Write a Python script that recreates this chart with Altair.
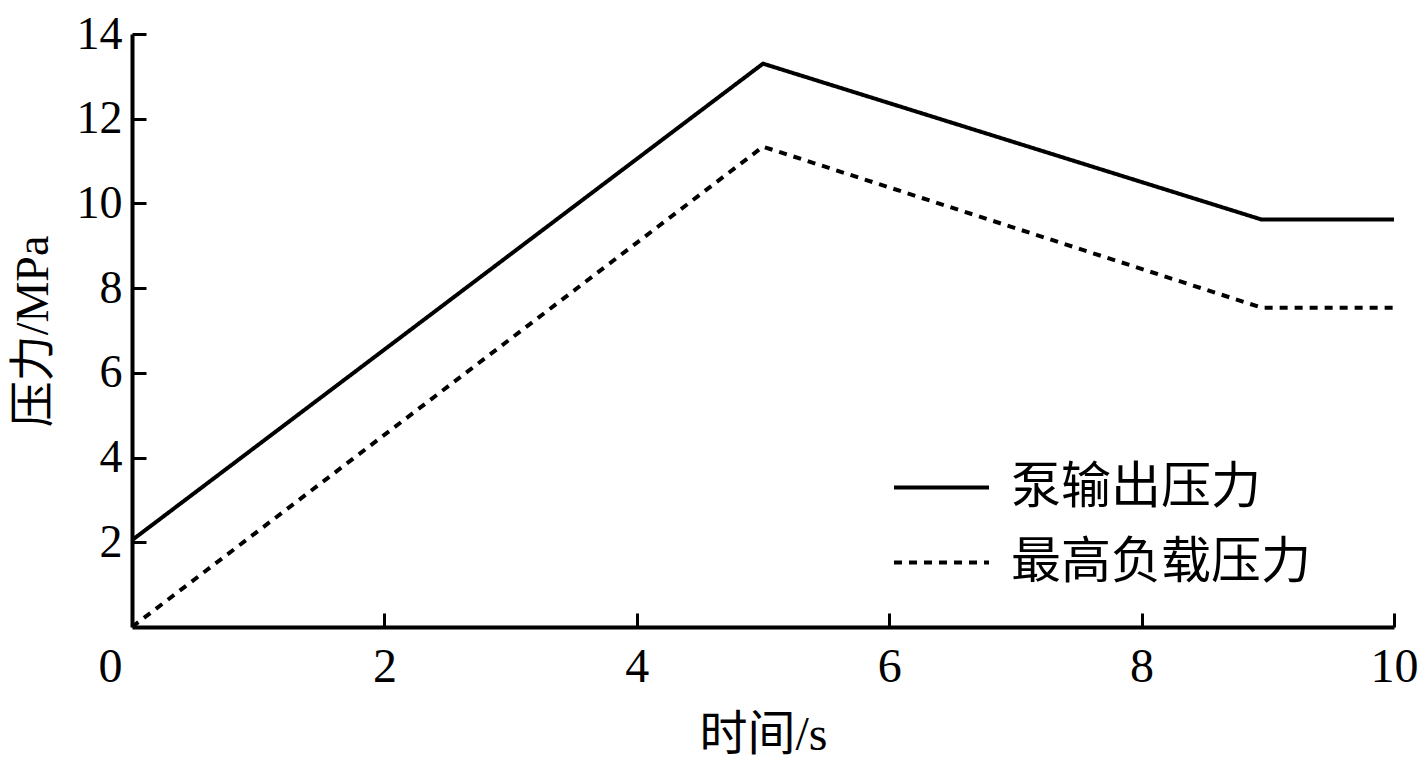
import altair as alt
import pandas as pd

# data
time_s = [0, 5, 8.95, 10]
pump_pressure = [2.05, 13.3, 9.62, 9.62]       # 泵输出压力
load_pressure = [0.0, 11.34, 7.54, 7.54]        # 最高负载压力
series_names = ["泵输出压力", "最高负载压力"]
x_ticks = [0, 2, 4, 6, 8, 10]
y_ticks = [0, 2, 4, 6, 8, 10, 12, 14]

rows = []
for t, v in zip(time_s, pump_pressure):
    rows.append({"t": t, "p": v, "s": series_names[0]})
for t, v in zip(time_s, load_pressure):
    rows.append({"t": t, "p": v, "s": series_names[1]})
df = pd.DataFrame(rows)

W, H = 1262, 593
SERIF = "Liberation Serif, Noto Sans CJK SC"

xscale = alt.Scale(domain=[0, 10], nice=False)
yscale = alt.Scale(domain=[0, 14], nice=False)

lines = alt.Chart(df).mark_line(strokeWidth=4, strokeCap="butt", clip=False).encode(
    x=alt.X("t:Q", scale=xscale,
            axis=alt.Axis(values=x_ticks, title="时间/s", orient="bottom",
                          ticks=False, tickSize=0, grid=False,
                          domain=True, domainWidth=4, domainColor="black",
                          labelFont=SERIF, labelFontSize=48, labelColor="black",
                          labelPadding=16, labelFlush=False,
                          labelOffset={"condition": {"test": "datum.value == 0", "value": -22}, "value": 0},
                          titleFont=SERIF, titleFontSize=48, titleFontWeight="normal",
                          titleColor="black", titleY=108, titleBaseline="middle")),
    y=alt.Y("p:Q", scale=yscale,
            axis=alt.Axis(values=y_ticks, title="压力/MPa", orient="left",
                          ticks=False, tickSize=0, grid=False,
                          domain=True, domainWidth=4, domainColor="black",
                          labelFont=SERIF, labelFontSize=46, labelColor="black",
                          labelPadding=10, labelFlush=False,
                          labelExpr="datum.value == 0 ? '' : datum.label",
                          titleFont=SERIF, titleFontSize=46, titleFontWeight="normal",
                          titleColor="black", titleX=-99, titleY=297,
                          titleBaseline="middle", titleAlign="center")),
    color=alt.Color("s:N", scale=alt.Scale(domain=series_names, range=["black", "black"]),
                    legend=alt.Legend(title=None, orient="none", legendX=760, legendY=404,
                                      symbolType="stroke", symbolSize=9025,
                                      symbolStrokeWidth=4, labelFont=SERIF,
                                      labelFontSize=50, labelColor="black",
                                      labelOffset=20, rowPadding=-9,
                                      labelLimit=400)),
    strokeDash=alt.StrokeDash("s:N", scale=alt.Scale(domain=series_names, range=[[1, 0], [8, 7]]),
                              legend=None),
)

tickaxes = alt.Chart(df).mark_point(opacity=0).encode(
    x=alt.X("t:Q", scale=xscale,
            axis=alt.Axis(values=x_ticks[1:], orient="top", offset=-H, labels=False,
                          title=None, domain=False, grid=False, ticks=True,
                          tickSize=14, tickWidth=3, tickColor="black")),
    y=alt.Y("p:Q", scale=yscale,
            axis=alt.Axis(values=y_ticks[1:], orient="right", offset=-W, labels=False,
                          title=None, domain=False, grid=False, ticks=True,
                          tickSize=14, tickWidth=3, tickColor="black")),
)

chart = alt.layer(lines, tickaxes).resolve_axis(x="independent", y="independent").properties(
    width=W, height=H,
    background="white",
    autosize=alt.AutoSizeParams(type="none"),
    padding={"left": 124, "top": 26, "right": 24, "bottom": 142},
).configure_view(stroke="transparent", strokeWidth=0)

chart.save("out.html", embed_options={"renderer": "svg", "actions": False})
